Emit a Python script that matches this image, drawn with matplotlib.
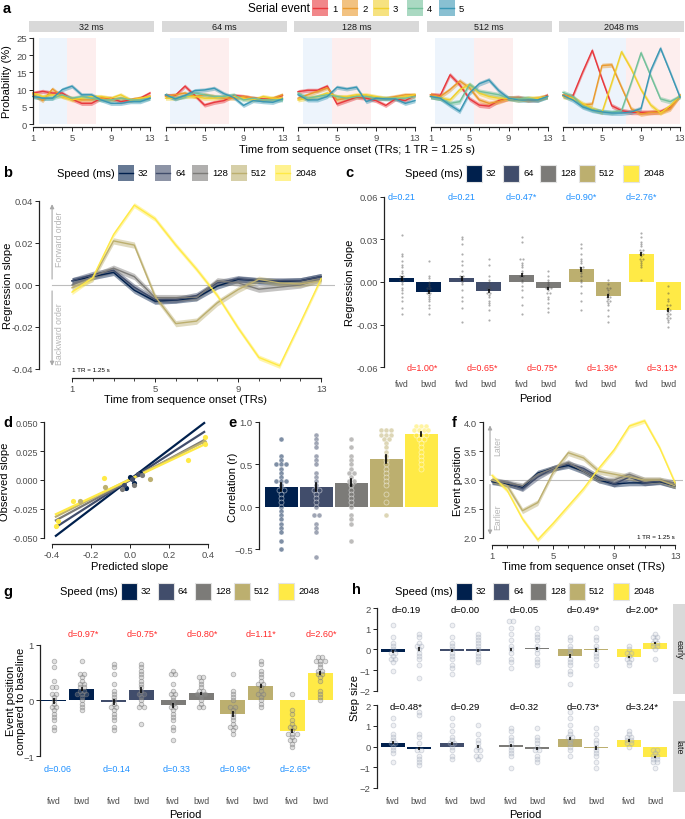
import numpy as np
import matplotlib
matplotlib.use('Agg')
import matplotlib.pyplot as plt
from matplotlib.patches import Rectangle
from matplotlib.lines import Line2D

plt.rcParams['font.family'] = ['Liberation Sans', 'DejaVu Sans']

# --- Canvas (layout is done in pixels of the 685x820 output) ---
W, H = 685, 820

# --- Shared categories and colours ---
SPEEDS = ['32', '64', '128', '512', '2048']
SPEED_COLORS = ['#00204D', '#414D6B', '#7C7B78', '#BCAF6F', '#FFEA46']
EVENTS = ['1', '2', '3', '4', '5']
EVENT_COLORS = ['#E8383D', '#EA9A2D', '#F0D02C', '#72C09A', '#3A97B4']
TRS = list(range(1, 14))
PERIODS = ['fwd', 'bwd']

# --- Panel a: probability (%) per serial event, one list per event ---
PROB_32MS = [
    [9.0, 9.5, 9.0, 9.0, 7.2, 6.0, 6.0, 7.5, 7.5, 6.5, 7.0, 7.5, 9.0],
    [8.5, 6.8, 10.2, 8.0, 7.5, 7.0, 7.0, 7.5, 7.0, 7.5, 7.0, 7.5, 8.0],
    [9.0, 8.0, 8.5, 8.0, 7.0, 7.5, 8.0, 8.0, 7.5, 8.5, 7.0, 7.5, 8.0],
    [8.0, 7.5, 7.5, 8.5, 7.5, 8.0, 7.5, 7.0, 7.0, 7.5, 7.0, 7.0, 7.5],
    [8.0, 7.5, 7.5, 10.0, 11.0, 8.5, 8.5, 7.0, 6.0, 6.0, 6.5, 6.5, 7.5],
]
PROB_64MS = [
    [8.3, 8.3, 11.0, 8.3, 5.5, 6.3, 6.8, 8.3, 8.0, 7.5, 7.3, 7.3, 8.3],
    [8.0, 8.5, 9.0, 8.0, 8.5, 8.0, 7.5, 7.5, 8.0, 7.5, 7.0, 7.5, 8.5],
    [7.5, 7.5, 8.0, 8.0, 7.5, 7.5, 8.0, 8.0, 7.5, 7.0, 8.0, 7.5, 7.5],
    [8.5, 7.5, 8.0, 9.0, 8.5, 8.0, 8.0, 8.5, 7.0, 7.5, 7.0, 7.0, 7.0],
    [8.5, 7.3, 8.3, 9.7, 9.9, 10.4, 8.8, 7.7, 5.4, 6.8, 6.5, 6.3, 7.3],
]
PROB_128MS = [
    [9.4, 9.8, 9.8, 11.0, 5.8, 6.8, 7.8, 7.5, 6.8, 5.4, 7.3, 6.8, 8.3],
    [7.5, 8.5, 9.5, 10.5, 7.0, 7.5, 8.0, 8.0, 7.5, 7.5, 8.0, 8.5, 8.5],
    [7.0, 7.5, 8.0, 9.0, 8.0, 8.0, 8.5, 8.5, 8.0, 7.5, 7.5, 8.0, 8.5],
    [9.0, 7.5, 8.0, 8.5, 8.0, 7.5, 8.0, 8.0, 7.5, 7.5, 7.5, 7.5, 8.0],
    [8.5, 7.0, 7.0, 8.0, 10.7, 10.2, 10.7, 6.5, 7.5, 7.3, 7.3, 6.0, 6.8],
]
PROB_512MS = [
    [8.5, 8.3, 14.3, 11.4, 7.3, 5.5, 5.2, 6.8, 7.5, 7.7, 7.1, 7.1, 8.3],
    [8.5, 8.0, 10.0, 12.5, 10.5, 7.0, 6.0, 6.5, 7.5, 7.5, 7.0, 7.5, 8.0],
    [8.0, 7.5, 7.0, 10.0, 11.5, 9.0, 8.0, 7.5, 7.5, 7.0, 7.5, 7.5, 8.0],
    [8.0, 7.5, 6.0, 6.5, 11.5, 9.5, 9.0, 8.5, 7.5, 7.5, 7.5, 7.0, 8.0],
    [8.0, 7.5, 5.5, 3.7, 9.0, 11.7, 12.8, 9.7, 7.5, 7.0, 7.0, 7.0, 8.0],
]
PROB_2048MS = [
    [8.3, 8.1, 15.0, 21.4, 13.1, 5.3, 3.9, 3.4, 3.4, 3.4, 3.6, 4.9, 8.3],
    [8.5, 7.8, 5.5, 5.8, 17.0, 17.2, 10.7, 4.4, 2.9, 3.4, 3.4, 4.4, 8.3],
    [8.0, 7.5, 6.0, 4.5, 3.4, 12.0, 21.0, 16.0, 10.0, 5.5, 3.2, 5.3, 8.3],
    [9.2, 8.0, 5.3, 4.2, 3.6, 3.4, 3.9, 12.0, 20.7, 14.0, 7.3, 6.5, 8.0],
    [8.3, 7.0, 5.0, 4.0, 3.5, 3.2, 3.2, 3.5, 4.5, 15.6, 22.0, 15.0, 7.8],
]
PROB_SE = [0.6, 0.6, 0.6, 0.7, 0.7]
FWD_WINDOW = [(1.6, 4.5), (1.5, 4.5), (1.5, 4.5), (1.5, 5.5), (1.5, 7.5)]
BWD_WINDOW = [(4.5, 7.5), (4.5, 7.5), (4.5, 8.5), (5.5, 9.5), (7.5, 13.0)]

# --- Panel b: regression slope time courses ---
SLOPE_32MS = [0.002, 0.004, 0.006, -0.0025, -0.0077, -0.0072, -0.0061, -0.0005, 0.0027, 0.002, 0.0015, 0.002, 0.004]
SLOPE_64MS = [0.002, 0.005, 0.007, -0.001, -0.007, -0.007, -0.005, 0.001, 0.003, 0.002, 0.002, 0.002, 0.004]
SLOPE_128MS = [0.0, 0.004, 0.008, 0.004, -0.006, -0.006, -0.006, 0.002, 0.001, -0.002, -0.001, 0.0, 0.003]
SLOPE_512MS = [-0.0013, 0.003, 0.021, 0.019, -0.0054, -0.0184, -0.0172, -0.0085, -0.0022, 0.0027, 0.001, 0.0005, 0.002]
SLOPE_2048MS = [-0.0034, 0.0035, 0.024, 0.038, 0.0315, 0.019, 0.0075, -0.005, -0.0204, -0.0345, -0.0385, -0.018, 0.003]
SLOPE_SE = [0.0015, 0.0015, 0.0015, 0.0015, 0.0012]

# --- Panel c: mean regression slope per period ---
C_FWD_MEAN = [0.0025, 0.0025, 0.005, 0.009, 0.020]
C_BWD_MEAN = [-0.007, -0.0065, -0.0045, -0.010, -0.0197]
C_FWD_SE = [0.0018, 0.0018, 0.0017, 0.0017, 0.0015]
C_BWD_SE = [0.0012, 0.0013, 0.0011, 0.0014, 0.0012]
C_FWD_D = ['d=0.21', 'd=0.21', 'd=0.47*', 'd=0.90*', 'd=2.76*']
C_BWD_D = ['d=1.00*', 'd=0.65*', 'd=0.75*', 'd=1.36*', 'd=3.13*']
C_FWD_PTS = [
    [0.033, 0.020, 0.018, 0.015, 0.012, 0.010, 0.008, 0.006, 0.005, 0.004, 0.003, 0.002, 0.001, 0.0, -0.002, -0.004, -0.006, -0.008, -0.010, -0.014, -0.018, -0.022],
    [0.032, 0.030, 0.027, 0.020, 0.015, 0.012, 0.008, 0.005, 0.004, 0.003, 0.001, 0.0, -0.002, -0.006, -0.010, -0.014, -0.018, -0.029],
    [0.032, 0.029, 0.017, 0.016, 0.014, 0.012, 0.010, 0.008, 0.006, 0.005, 0.004, 0.002, 0.0, -0.003, -0.006, -0.011, -0.016, -0.022],
    [0.027, 0.024, 0.020, 0.017, 0.015, 0.013, 0.011, 0.010, 0.009, 0.008, 0.006, 0.004, 0.002, 0.0, -0.003, -0.008, -0.013, -0.020],
    [0.034, 0.031, 0.029, 0.027, 0.025, 0.023, 0.022, 0.021, 0.020, 0.019, 0.018, 0.017, 0.016, 0.015, 0.013, 0.012, 0.010, 0.001],
]
C_BWD_PTS = [
    [0.015, 0.005, 0.003, 0.0, -0.002, -0.003, -0.004, -0.005, -0.006, -0.007, -0.008, -0.009, -0.010, -0.012, -0.014, -0.016, -0.018, -0.022],
    [0.016, 0.012, 0.005, 0.002, 0.0, -0.003, -0.004, -0.005, -0.006, -0.007, -0.008, -0.009, -0.011, -0.013, -0.015, -0.017, -0.020, -0.027],
    [0.008, 0.005, 0.002, 0.0, -0.002, -0.003, -0.004, -0.004, -0.005, -0.006, -0.007, -0.008, -0.010, -0.012, -0.015, -0.018, -0.021],
    [0.002, -0.002, -0.004, -0.005, -0.006, -0.008, -0.009, -0.010, -0.011, -0.012, -0.013, -0.014, -0.015, -0.017, -0.020, -0.024, -0.029],
    [-0.003, -0.008, -0.012, -0.014, -0.016, -0.017, -0.018, -0.019, -0.020, -0.021, -0.022, -0.023, -0.024, -0.025, -0.026, -0.027, -0.029, -0.031],
]

# --- Panel d: observed vs predicted slope ---
D_PRED = [
    [-0.02, 0.0, 0.02, 0.05],
    [-0.03, 0.01, 0.04],
    [-0.04, 0.02, 0.06],
    [-0.256, -0.13, 0.103, 0.38],
    [-0.38, -0.37, -0.294, -0.132, 0.296, 0.385, 0.385],
]
D_OBS = [
    [-0.007, 0.003, -0.003, 0.006],
    [-0.004, 0.001, 0.005],
    [-0.008, -0.004, 0.004],
    [-0.0178, -0.0063, 0.0006, 0.033],
    [-0.0394, -0.035, -0.0178, 0.0015, 0.0172, 0.0373, 0.0307],
]
D_SLOPE = [0.128, 0.108, 0.091, 0.085, 0.079]
D_INTERCEPT = [0.0005, 0.0004, -0.0002, 0.0007, 0.0005]

# --- Panel e: correlation (r) per speed ---
E_MEAN = [0.235, 0.23, 0.285, 0.56, 0.855]
E_SE = [0.045, 0.05, 0.045, 0.05, 0.025]
E_PTS = [
    [0.80, 0.60, 0.55, 0.52, 0.50, 0.50, 0.47, 0.40, 0.35, 0.32, 0.30, 0.28, 0.25, 0.22, 0.20, 0.15, 0.10, 0.05, 0.0, -0.05, -0.10, -0.15, -0.20, -0.23, -0.30, -0.42, -0.52],
    [0.85, 0.80, 0.73, 0.72, 0.60, 0.55, 0.52, 0.40, 0.35, 0.30, 0.25, 0.22, 0.20, 0.15, 0.10, 0.05, 0.0, -0.08, -0.12, -0.18, -0.25, -0.32, -0.62],
    [0.80, 0.70, 0.60, 0.55, 0.50, 0.45, 0.40, 0.38, 0.35, 0.30, 0.28, 0.25, 0.20, 0.15, 0.10, 0.05, 0.0, -0.08, -0.15, -0.20, -0.40],
    [0.92, 0.88, 0.88, 0.85, 0.85, 0.83, 0.80, 0.78, 0.75, 0.70, 0.65, 0.60, 0.57, 0.52, 0.45, 0.40, 0.35, 0.30, 0.25, 0.15, 0.05, -0.12],
    [0.97, 0.95, 0.93, 0.92, 0.90, 0.90, 0.88, 0.87, 0.85, 0.83, 0.80, 0.78, 0.75, 0.70, 0.65, 0.60, 0.55, 0.50, 0.45],
]

# --- Panel f: event position time courses ---
POS_32MS = [2.97, 2.93, 2.87, 3.12, 3.2, 3.25, 3.15, 3.0, 2.93, 2.95, 2.95, 2.97, 2.9]
POS_64MS = [2.98, 2.95, 2.85, 3.05, 3.2, 3.28, 3.2, 3.05, 2.93, 3.05, 2.95, 2.98, 2.9]
POS_128MS = [3.0, 2.95, 2.9, 3.1, 3.2, 3.3, 3.15, 3.0, 3.0, 3.1, 3.0, 3.0, 2.95]
POS_512MS = [3.0, 2.9, 2.47, 2.61, 3.13, 3.47, 3.38, 3.15, 3.1, 3.05, 3.0, 3.0, 2.9]
POS_2048MS = [3.08, 2.82, 2.33, 1.97, 2.25, 2.55, 2.85, 3.2, 3.52, 3.93, 4.02, 3.55, 2.95]
POS_SE = [0.05, 0.05, 0.05, 0.05, 0.04]

# --- Panel g: event position compared to baseline ---
G_FWD_MEAN = [-0.01, -0.03, -0.09, -0.24, -0.55]
G_BWD_MEAN = [0.21, 0.19, 0.13, 0.26, 0.50]
G_FWD_SE = [0.06, 0.05, 0.05, 0.05, 0.04]
G_BWD_SE = [0.04, 0.05, 0.03, 0.04, 0.04]
G_BWD_D = ['d=0.97*', 'd=0.75*', 'd=0.80*', 'd=1.11*', 'd=2.60*']
G_FWD_D = ['d=0.06', 'd=0.14', 'd=0.33', 'd=0.96*', 'd=2.65*']
G_FWD_PTS = [
    [0.75, 0.58, 0.35, 0.25, 0.22, 0.15, 0.10, 0.05, 0.0, -0.05, -0.10, -0.15, -0.20, -0.25, -0.30, -0.35, -0.48, -0.53],
    [0.65, 0.60, 0.45, 0.30, 0.20, 0.15, 0.05, 0.0, -0.05, -0.10, -0.15, -0.20, -0.25, -0.30, -0.35, -0.45, -0.55],
    [0.55, 0.48, 0.45, 0.30, 0.20, 0.15, 0.10, 0.05, 0.0, -0.05, -0.10, -0.15, -0.20, -0.25, -0.30, -0.35, -0.45, -0.55, -0.75],
    [0.45, 0.20, 0.15, 0.05, 0.0, -0.10, -0.15, -0.20, -0.25, -0.30, -0.35, -0.40, -0.45, -0.50, -0.55, -0.58],
    [0.10, -0.20, -0.22, -0.35, -0.40, -0.45, -0.50, -0.55, -0.58, -0.60, -0.62, -0.65, -0.70, -0.75, -0.80, -0.85],
]
G_BWD_PTS = [
    [0.70, 0.48, 0.45, 0.40, 0.35, 0.30, 0.28, 0.25, 0.22, 0.20, 0.18, 0.15, 0.12, 0.10, 0.05, 0.0, -0.05, -0.10, -0.20],
    [0.68, 0.60, 0.52, 0.45, 0.40, 0.35, 0.30, 0.25, 0.20, 0.15, 0.10, 0.05, 0.0, -0.05, -0.12, -0.15, -0.42],
    [0.43, 0.40, 0.35, 0.30, 0.25, 0.20, 0.18, 0.15, 0.12, 0.10, 0.05, 0.0, -0.05, -0.10, -0.15],
    [0.72, 0.65, 0.55, 0.45, 0.40, 0.35, 0.30, 0.28, 0.25, 0.20, 0.15, 0.10, 0.05, 0.0, -0.05, -0.15],
    [0.80, 0.78, 0.75, 0.72, 0.70, 0.65, 0.60, 0.55, 0.52, 0.50, 0.45, 0.40, 0.35, 0.20, 0.15, 0.05, 0.0],
]

# --- Panel h: step size, early and late facets ---
H_ROWS = ['early', 'late']
H_EARLY_FWD_MEAN = [-0.10, -0.05, 0.0, -0.33, -0.35]
H_EARLY_BWD_MEAN = [0.03, -0.05, 0.05, -0.03, 0.32]
H_LATE_FWD_MEAN = [0.18, 0.15, 0.05, 0.38, 0.30]
H_LATE_BWD_MEAN = [-0.10, 0.0, -0.10, -0.08, -0.50]
H_SE = [0.08, 0.07, 0.09, 0.09, 0.06]
H_EARLY_D = ['d=0.19', 'd=0.00', 'd=0.05', 'd=0.49*', 'd=2.00*']
H_LATE_D = ['d=0.48*', 'd=0.29', 'd=0.32', 'd=0.73*', 'd=3.24*']
H_EARLY_FWD_PTS = [
    [1.25, 0.6, 0.3, 0.1, 0.0, -0.1, -0.2, -0.3, -0.4, -0.5, -0.6, -1.0],
    [1.2, 0.6, 0.35, 0.2, 0.0, -0.1, -0.3, -0.5, -0.8, -0.9, -1.25],
    [1.4, 1.3, 1.1, 0.8, 0.5, 0.2, 0.0, -0.2, -0.4, -0.6, -0.85],
    [0.6, 0.5, 0.2, 0.0, -0.2, -0.4, -0.6, -0.8, -1.0, -1.2, -1.6],
    [0.2, 0.0, -0.1, -0.2, -0.3, -0.4, -0.5, -0.6, -0.75],
]
H_EARLY_BWD_PTS = [
    [0.75, 0.55, 0.35, 0.2, 0.1, 0.0, -0.1, -0.3, -0.5, -0.8, -1.35],
    [0.8, 0.6, 0.4, 0.3, 0.1, 0.0, -0.1, -0.3, -0.5, -0.6],
    [1.1, 0.8, 0.6, 0.4, 0.2, 0.0, -0.2, -0.4, -0.6, -0.8],
    [1.1, 0.6, 0.4, 0.2, 0.0, -0.1, -0.3, -0.5, -0.7],
    [0.75, 0.65, 0.55, 0.45, 0.35, 0.3, 0.2, 0.1, 0.0, -0.4],
]
H_LATE_FWD_PTS = [
    [1.3, 1.0, 0.6, 0.5, 0.3, 0.2, 0.1, 0.0, -0.1, -0.3, -0.75],
    [1.4, 1.0, 0.7, 0.5, 0.3, 0.2, 0.1, 0.0, -0.2, -0.4, -0.65],
    [0.95, 0.8, 0.5, 0.3, 0.1, 0.0, -0.1, -0.3, -0.5, -1.05],
    [1.6, 1.4, 1.1, 0.8, 0.6, 0.5, 0.4, 0.3, 0.1, 0.0, -0.2, -0.45],
    [0.7, 0.6, 0.5, 0.4, 0.35, 0.3, 0.2, 0.1, 0.0],
]
H_LATE_BWD_PTS = [
    [1.6, 1.5, 0.6, 0.4, 0.1, -0.1, -0.2, -0.4, -0.6, -0.8, -0.95],
    [1.05, 0.6, 0.3, 0.1, 0.0, -0.1, -0.2, -0.4, -0.5, -0.65],
    [0.95, 0.5, 0.3, 0.1, 0.0, -0.1, -0.2, -0.4, -0.6, -0.75],
    [0.95, 0.6, 0.3, 0.1, 0.0, -0.1, -0.3, -0.5, -0.7, -1.0],
    [-0.1, -0.2, -0.3, -0.4, -0.5, -0.55, -0.6, -0.7, -0.8, -1.0],
]

TICK_GRAY = '#4D4D4D'
AXIS_COLOR = '#222222'
D_BLUE = '#1E90FF'
D_RED = '#FF2A2A'
LEGEND_OFFS = [61, 98, 135, 174, 218]


# --- Pixel helpers ---
def add_ax(fig, left, top, right, bottom):
    return fig.add_axes([left / W, 1 - bottom / H, (right - left) / W, (bottom - top) / H])


def ftext(fig, x, y, s, **kw):
    return fig.text(x / W, 1 - y / H, s, **kw)


def frect(fig, x0, y0, x1, y1, **kw):
    fig.patches.append(Rectangle((x0 / W, 1 - y1 / H), (x1 - x0) / W, (y1 - y0) / H,
                                 transform=fig.transFigure, **kw))


def panel_label(fig, x, y, s):
    ftext(fig, x, y, s, weight='bold', size=10.5, ha='left', va='center')


def style_axis(ax, left=True, bottom=True):
    for side in ['top', 'right']:
        ax.spines[side].set_visible(False)
    ax.spines['left'].set_visible(left)
    ax.spines['bottom'].set_visible(bottom)
    for side in ['left', 'bottom']:
        ax.spines[side].set_linewidth(0.9)
        ax.spines[side].set_color(AXIS_COLOR)
    ax.tick_params(direction='out', length=3, width=0.7, colors=AXIS_COLOR,
                   labelsize=6.8, labelcolor=TICK_GRAY, pad=1.5)
    ax.tick_params(which='minor', direction='out', length=2, width=0.6, colors=AXIS_COLOR)
    ax.patch.set_alpha(0)


def legend_row(fig, x0, yc, title, labels, colors, offsets, kind, title_size=8):
    ftext(fig, x0, yc, title, ha='left', va='center', size=title_size)
    for lab, col, off in zip(labels, colors, offsets):
        px = x0 + off
        if kind == 'ribbon':
            frect(fig, px, yc - 8, px + 16, yc + 8, facecolor=col, alpha=0.6, edgecolor='none')
            fig.add_artist(Line2D([(px + 1) / W, (px + 15) / W], [1 - yc / H, 1 - yc / H],
                                  color=col, lw=1.0, transform=fig.transFigure))
        else:
            frect(fig, px, yc - 8.5, px + 16, yc + 8.5, facecolor=col,
                  edgecolor='#E3E3E3', lw=0.8)
        ftext(fig, px + 20, yc, lab, ha='left', va='center', size=6.8)


def dot_stack(vals, binw, dx):
    # ggplot-style dotplot: snap values to bins, spread ties sideways
    vals = np.asarray(vals, dtype=float)
    bins = np.round(vals / binw)
    xo = np.zeros(len(vals))
    for b in np.unique(bins):
        idx = np.where(bins == b)[0]
        xo[idx] = (np.arange(len(idx)) - (len(idx) - 1) / 2.0) * dx
    return bins * binw, xo


def paired_bars(ax, fwd_mean, bwd_mean, fwd_se, bwd_se, fwd_pts, bwd_pts,
                off, binw, dx, dot_kw):
    for i in range(len(SPEEDS)):
        sets = [(-off, fwd_mean[i], fwd_se[i], fwd_pts[i]),
                (off, bwd_mean[i], bwd_se[i], bwd_pts[i])]
        for shift, mean, se, pts in sets:
            x = i + shift
            ax.bar(x, mean, width=0.42, color=SPEED_COLORS[i], edgecolor='none', zorder=1)
            yv, xo = dot_stack(pts, binw, dx)
            ax.scatter(x + xo, yv, zorder=2, **dot_kw)
            ax.plot([x, x], [mean - se, mean + se], color='black', lw=1.1, zorder=3,
                    solid_capstyle='butt')
    ticks = []
    for i in range(len(SPEEDS)):
        ticks += [i - off, i + off]
    ax.set_xticks(ticks)
    ax.set_xticklabels(PERIODS * len(SPEEDS))


# --- Panels ---
def draw_panel_a(fig):
    panel_label(fig, 3, 9, 'a')
    legend_row(fig, 248, 9, 'Serial event', EVENTS, EVENT_COLORS, [64, 94, 125, 159, 191],
               'ribbon', title_size=8.5)
    all_probs = [PROB_32MS, PROB_64MS, PROB_128MS, PROB_512MS, PROB_2048MS]
    for i, probs in enumerate(all_probs):
        x1 = 33 + 132.5 * i
        x13 = x1 + 117
        frect(fig, x1 - 4, 22, x13 + 4, 33, facecolor='#D9D9D9', edgecolor='none')
        ftext(fig, (x1 + x13) / 2, 27.8, SPEEDS[i] + ' ms', ha='center', va='center',
              size=6.5, color='#1A1A1A')
        ax = add_ax(fig, x1, 39, x13, 128)
        ax.set_xlim(1, 13)
        ax.set_ylim(-0.87, 25)
        style_axis(ax, left=(i == 0))
        ax.fill_between(FWD_WINDOW[i], 0, 25, color='#EDF4FC', lw=0, zorder=0)
        ax.fill_between(BWD_WINDOW[i], 0, 25, color='#FDEEEE', lw=0, zorder=0)
        for e, col in enumerate(EVENT_COLORS):
            y = np.array(probs[e])
            ax.fill_between(TRS, y - PROB_SE[i], y + PROB_SE[i], color=col, alpha=0.45,
                            lw=0, clip_on=False)
            ax.plot(TRS, y, color=col, lw=1.0, clip_on=False)
        ax.set_xticks([1, 5, 9, 13])
        ax.set_xticks(TRS, minor=True)
        ax.spines['bottom'].set_bounds(1, 13)
        if i == 0:
            ax.set_yticks([0, 5, 10, 15, 20, 25])
            ax.spines['left'].set_bounds(0, 25)
        else:
            ax.set_yticks([])
    ftext(fig, 7, 82, 'Probability (%)', rotation=90, ha='center', va='center', size=8)
    ftext(fig, 357, 150, 'Time from sequence onset (TRs; 1 TR = 1.25 s)', ha='center',
          va='center', size=8)


def draw_panel_b(fig):
    panel_label(fig, 3, 173, 'b')
    legend_row(fig, 57, 174, 'Speed (ms)', SPEEDS, SPEED_COLORS, LEGEND_OFFS, 'ribbon')
    ax = add_ax(fig, 39, 200, 335, 379)
    ax.set_xlim(-0.59, 13.67)
    ax.set_ylim(-0.04429, 0.04095)
    style_axis(ax)
    ax.spines['left'].set_bounds(-0.04, 0.04)
    ax.spines['bottom'].set_bounds(1, 13)
    ax.plot([0.04, 13.6], [0, 0], color='#BDBDBD', lw=0.8, zorder=0)
    all_slopes = [SLOPE_32MS, SLOPE_64MS, SLOPE_128MS, SLOPE_512MS, SLOPE_2048MS]
    for i, slope in enumerate(all_slopes):
        y = np.array(slope)
        ax.fill_between(TRS, y - SLOPE_SE[i], y + SLOPE_SE[i], color=SPEED_COLORS[i],
                        alpha=0.45, lw=0)
        ax.plot(TRS, y, color=SPEED_COLORS[i], lw=1.0)
    arrow = dict(arrowstyle='-|>', color='#A8A8A8', lw=0.8, mutation_scale=6)
    ax.annotate('', xy=(0.04, 0.0398), xytext=(0.04, 0.0015), arrowprops=arrow)
    ax.annotate('', xy=(0.04, -0.0398), xytext=(0.04, -0.0015), arrowprops=arrow)
    ax.text(0.42, 0.022, 'Forward order', rotation=90, ha='center', va='center',
            size=6.3, color='#B5B5B5')
    ax.text(0.42, -0.023, 'Backward order', rotation=90, ha='center', va='center',
            size=6.3, color='#B5B5B5')
    ax.text(1.0, -0.0402, '1 TR = 1.25 s', ha='left', va='center', size=4.5)
    ax.set_xticks([1, 5, 9, 13])
    ax.set_xticks(TRS, minor=True)
    ax.set_yticks([-0.04, -0.02, 0.0, 0.02, 0.04])
    ax.set_yticklabels(['-0.04', '-0.02', '0.00', '0.02', '0.04'])
    ftext(fig, 8, 286, 'Regression slope', rotation=90, ha='center', va='center', size=8)
    ftext(fig, 186, 400, 'Time from sequence onset (TRs)', ha='center', va='center', size=8)


def draw_panel_c(fig):
    panel_label(fig, 345, 173, 'c')
    legend_row(fig, 405, 174, 'Speed (ms)', SPEEDS, SPEED_COLORS, LEGEND_OFFS, 'box')
    ax = add_ax(fig, 384, 195, 683, 370)
    ax.set_xlim(-0.517, 4.467)
    ax.set_ylim(-0.0614, 0.0621)
    style_axis(ax, bottom=False)
    ax.spines['left'].set_bounds(-0.06, 0.06)
    dot_kw = dict(s=2.5, color='#4A4A4A', alpha=0.45, linewidths=0)
    paired_bars(ax, C_FWD_MEAN, C_BWD_MEAN, C_FWD_SE, C_BWD_SE, C_FWD_PTS, C_BWD_PTS,
                0.225, 0.0015, 0.045, dot_kw)
    ax.tick_params(axis='x', length=0, pad=7.5, labelsize=6.3)
    ax.set_yticks([-0.06, -0.03, 0.0, 0.03, 0.06])
    ax.set_yticklabels(['-0.06', '-0.03', '0.00', '0.03', '0.06'])
    for i in range(len(SPEEDS)):
        ax.text(i - 0.22, 0.06, C_FWD_D[i], ha='center', va='center', size=6.5, color=D_BLUE)
        ax.text(i + 0.12, -0.0605, C_BWD_D[i], ha='center', va='center', size=6.5, color=D_RED)
    ftext(fig, 350, 283, 'Regression slope', rotation=90, ha='center', va='center', size=8)
    ftext(fig, 535, 399, 'Period', ha='center', va='center', size=8)


def draw_panel_d(fig):
    panel_label(fig, 3, 423, 'd')
    ax = add_ax(fig, 44, 420, 210, 545)
    ax.set_xlim(-0.441, 0.41)
    ax.set_ylim(-0.0552, 0.0526)
    style_axis(ax)
    ax.spines['left'].set_bounds(-0.05, 0.05)
    ax.spines['bottom'].set_bounds(-0.4, 0.4)
    xs = np.array([-0.38, 0.38])
    for i in range(len(SPEEDS)):
        ax.plot(xs, D_SLOPE[i] * xs + D_INTERCEPT[i], color=SPEED_COLORS[i], lw=1.6)
    for i in range(len(SPEEDS)):
        ax.scatter(D_PRED[i], D_OBS[i], s=14, color=SPEED_COLORS[i], linewidths=0, zorder=3)
    ax.set_xticks([-0.4, -0.2, 0.0, 0.2, 0.4])
    ax.set_xticklabels(['-0.4', '-0.2', '0.0', '0.2', '0.4'])
    ax.set_yticks([-0.05, -0.025, 0.0, 0.025, 0.05])
    ax.set_yticklabels(['-0.050', '-0.025', '0.000', '0.025', '0.050'])
    ax.tick_params(axis='y', labelsize=6.5)
    ftext(fig, 5, 482, 'Observed slope', rotation=90, ha='center', va='center', size=8)
    ftext(fig, 130, 567, 'Predicted slope', ha='center', va='center', size=8)


def draw_panel_e(fig):
    panel_label(fig, 228, 423, 'e')
    ax = add_ax(fig, 259, 420, 440, 565)
    ax.set_xlim(-0.63, 4.54)
    ax.set_ylim(-0.677, 1.035)
    style_axis(ax, bottom=False)
    ax.spines['left'].set_bounds(-0.5, 1.0)
    for i in range(len(SPEEDS)):
        ax.bar(i, E_MEAN[i], width=0.94, color=SPEED_COLORS[i], edgecolor='none', zorder=1)
        yv, xo = dot_stack(E_PTS[i], 0.05, 0.14)
        ax.scatter(i + xo, yv, s=13, facecolor=SPEED_COLORS[i], alpha=0.5,
                   edgecolor='white', linewidths=0.6, zorder=2)
        ax.plot([i, i], [E_MEAN[i] - E_SE[i], E_MEAN[i] + E_SE[i]], color='black', lw=1.2,
                zorder=3)
    ax.set_xticks([])
    ax.set_yticks([-0.5, 0.0, 0.5, 1.0])
    ftext(fig, 233, 487, 'Correlation (r)', rotation=90, ha='center', va='center', size=8)


def draw_panel_f(fig):
    panel_label(fig, 452, 423, 'f')
    ax = add_ax(fig, 483, 420, 683, 546)
    ax.set_xlim(0.41, 13.52)
    ax.set_ylim(1.879, 4.052)
    style_axis(ax)
    ax.spines['left'].set_bounds(2.0, 4.0)
    ax.spines['bottom'].set_bounds(1, 13)
    ax.plot([0.87, 13.5], [3.0, 3.0], color='#BDBDBD', lw=0.8, zorder=0)
    all_pos = [POS_32MS, POS_64MS, POS_128MS, POS_512MS, POS_2048MS]
    for i, pos in enumerate(all_pos):
        y = np.array(pos)
        ax.fill_between(TRS, y - POS_SE[i], y + POS_SE[i], color=SPEED_COLORS[i],
                        alpha=0.45, lw=0, clip_on=False)
        ax.plot(TRS, y, color=SPEED_COLORS[i], lw=1.0, clip_on=False)
    arrow = dict(arrowstyle='-|>', color='#A8A8A8', lw=0.8, mutation_scale=6)
    ax.annotate('', xy=(0.87, 3.99), xytext=(0.87, 3.03), arrowprops=arrow)
    ax.annotate('', xy=(0.87, 2.01), xytext=(0.87, 2.97), arrowprops=arrow)
    ax.text(1.35, 3.6, 'Later', rotation=90, ha='center', va='center', size=6.3,
            color='#B5B5B5')
    ax.text(1.35, 2.37, 'Earlier', rotation=90, ha='center', va='center', size=6.3,
            color='#B5B5B5')
    ax.text(13.0, 2.02, '1 TR = 1.25 s', ha='right', va='center', size=4.5)
    ax.set_xticks([1, 5, 9, 13])
    ax.set_xticks(TRS, minor=True)
    ax.set_yticks([2.0, 2.5, 3.0, 3.5, 4.0])
    ax.set_yticklabels(['2.0', '2.5', '3.0', '3.5', '4.0'])
    ftext(fig, 458, 481, 'Event position', rotation=90, ha='center', va='center', size=8)
    ftext(fig, 583, 567, 'Time from sequence onset (TRs)', ha='center', va='center', size=8)


def draw_panel_g(fig):
    panel_label(fig, 3, 592, 'g')
    legend_row(fig, 60, 592, 'Speed (ms)', SPEEDS, SPEED_COLORS, LEGEND_OFFS, 'box')
    ax = add_ax(fig, 40, 620, 340, 780)
    ax.set_xlim(-0.47, 4.57)
    ax.set_ylim(-1.414, 1.468)
    style_axis(ax, bottom=False)
    ax.spines['left'].set_bounds(-1, 1)
    dot_kw = dict(s=11, facecolor=(0.6, 0.6, 0.6, 0.3), edgecolor=(0.5, 0.5, 0.5, 0.55),
                  linewidths=0.6)
    paired_bars(ax, G_FWD_MEAN, G_BWD_MEAN, G_FWD_SE, G_BWD_SE, G_FWD_PTS, G_BWD_PTS,
                0.235, 0.06, 0.075, dot_kw)
    ax.tick_params(axis='x', length=0, pad=12, labelsize=6.3)
    ax.set_yticks([-1, 0, 1])
    for i in range(len(SPEEDS)):
        ax.text(i + 0.25, 1.2, G_BWD_D[i], ha='center', va='center', size=6.5, color=D_RED)
        ax.text(i - 0.18, -1.22, G_FWD_D[i], ha='center', va='center', size=6.5, color=D_BLUE)
    ftext(fig, 16, 701, 'Event position\ncompared to baseline', rotation=90, ha='center',
          va='center', size=8, linespacing=1.1)
    ftext(fig, 185, 815, 'Period', ha='center', va='center', size=8)


def draw_panel_h(fig):
    panel_label(fig, 352, 590, 'h')
    legend_row(fig, 395, 592, 'Speed (ms)', SPEEDS, SPEED_COLORS, LEGEND_OFFS, 'box')
    rows = [
        (605, 695, -2.145, H_EARLY_FWD_MEAN, H_EARLY_BWD_MEAN, H_EARLY_FWD_PTS,
         H_EARLY_BWD_PTS, H_EARLY_D),
        (702, 793, -2.193, H_LATE_FWD_MEAN, H_LATE_BWD_MEAN, H_LATE_FWD_PTS,
         H_LATE_BWD_PTS, H_LATE_D),
    ]
    dot_kw = dict(s=12, facecolor=(0.72, 0.75, 0.8, 0.22), edgecolor=(0.6, 0.64, 0.7, 0.4),
                  linewidths=0.6)
    for r, (top, bottom, ybot, fm, bm, fp, bp, dlab) in enumerate(rows):
        ax = add_ax(fig, 377, top, 671, bottom)
        ax.set_xlim(-0.49, 4.49)
        ax.set_ylim(ybot, 2.193)
        style_axis(ax, bottom=False)
        ax.spines['left'].set_bounds(-2, 2)
        paired_bars(ax, fm, bm, H_SE, H_SE, fp, bp, 0.22, 0.15, 0.075, dot_kw)
        ax.set_yticks([-2, -1, 0, 1, 2])
        for i in range(len(SPEEDS)):
            ax.text(i, 1.95, dlab[i], ha='center', va='center', size=6.8)
        if r == 0:
            ax.tick_params(axis='x', length=0, labelbottom=False)
        else:
            ax.tick_params(axis='x', length=0, pad=3, labelsize=6.3)
        frect(fig, 673, top, 685, bottom, facecolor='#D9D9D9', edgecolor='none')
        ftext(fig, 679, (top + bottom) / 2, H_ROWS[r], rotation=-90, ha='center',
              va='center', size=6.5, color='#1A1A1A')
    ftext(fig, 355, 698, 'Step size', rotation=90, ha='center', va='center', size=8)
    ftext(fig, 525, 815, 'Period', ha='center', va='center', size=8)


if __name__ == '__main__':
    fig = plt.figure(figsize=(W / 100, H / 100), dpi=100)
    draw_panel_a(fig)
    draw_panel_b(fig)
    draw_panel_c(fig)
    draw_panel_d(fig)
    draw_panel_e(fig)
    draw_panel_f(fig)
    draw_panel_g(fig)
    draw_panel_h(fig)
    fig.savefig('out.png', dpi=100)
